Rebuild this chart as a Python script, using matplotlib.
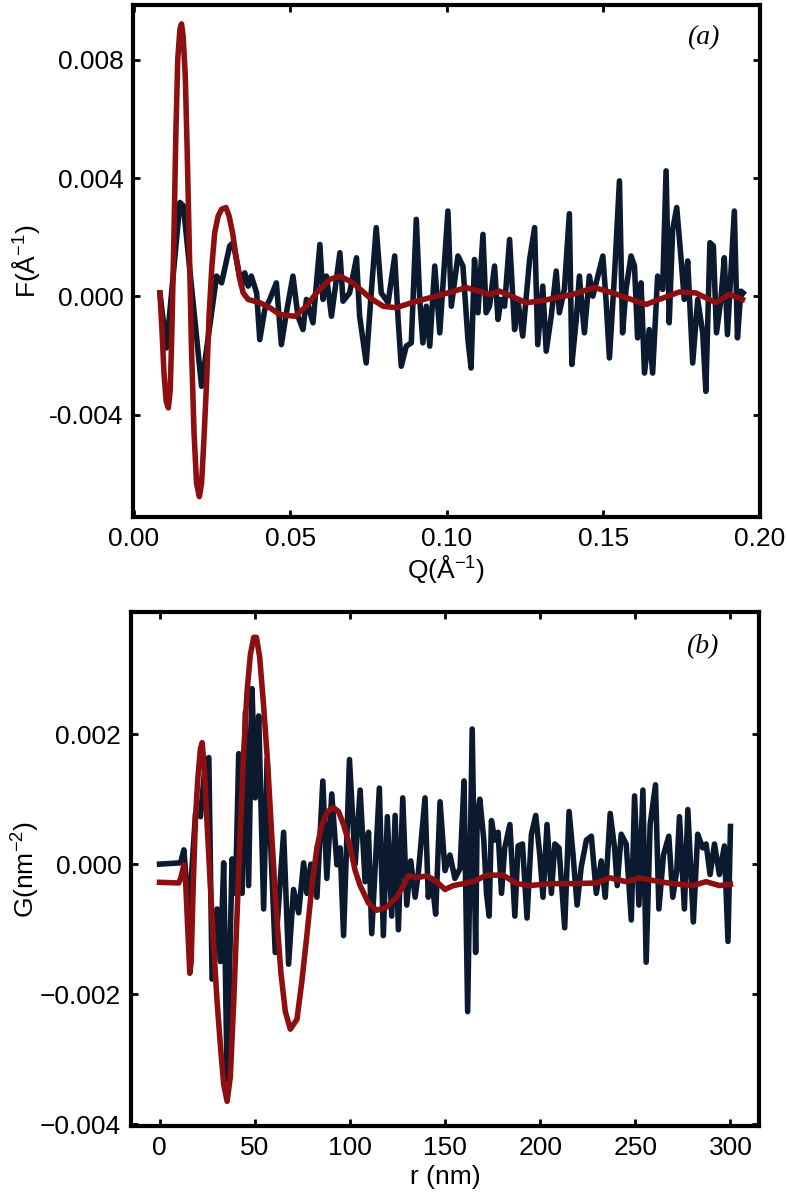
import matplotlib
matplotlib.use("Agg")
import matplotlib.pyplot as plt

plt.rcParams["font.family"] = ["Liberation Sans", "DejaVu Sans"]
plt.rcParams["mathtext.fontset"] = "custom"
plt.rcParams["mathtext.rm"] = "Liberation Sans"
plt.rcParams["mathtext.it"] = "Liberation Sans:italic"
plt.rcParams["mathtext.default"] = "regular"

# (a) F(Q): measured (noisy) and fitted (smooth)
q_data = [0.0083, 0.0104, 0.0147, 0.0158, 0.0216, 0.0264, 0.0280, 0.0306, 0.0317, 0.0344,
          0.0354, 0.0365, 0.0375, 0.0392, 0.0402, 0.0418, 0.0434, 0.0455, 0.0471, 0.0487,
          0.0508, 0.0524, 0.0540, 0.0551, 0.0572, 0.0594, 0.0604, 0.0615, 0.0631, 0.0658,
          0.0668, 0.0689, 0.0711, 0.0721, 0.0742, 0.0758, 0.0774, 0.0790, 0.0812, 0.0833,
          0.0844, 0.0854, 0.0870, 0.0886, 0.0902, 0.0913, 0.0923, 0.0934, 0.0945, 0.0961,
          0.0977, 0.1003, 0.1014, 0.1035, 0.1051, 0.1067, 0.1077, 0.1088, 0.1099, 0.1115,
          0.1125, 0.1136, 0.1152, 0.1163, 0.1173, 0.1184, 0.1200, 0.1216, 0.1226, 0.1242,
          0.1264, 0.1280, 0.1290, 0.1306, 0.1317, 0.1333, 0.1349, 0.1359, 0.1375, 0.1391,
          0.1399, 0.1413, 0.1423, 0.1439, 0.1455, 0.1466, 0.1482, 0.1498, 0.1508, 0.1519,
          0.1535, 0.1551, 0.1561, 0.1572, 0.1588, 0.1599, 0.1609, 0.1620, 0.1631, 0.1646,
          0.1657, 0.1673, 0.1689, 0.1700, 0.1710, 0.1721, 0.1734, 0.1748, 0.1758, 0.1769,
          0.1785, 0.1801, 0.1817, 0.1827, 0.1840, 0.1851, 0.1861, 0.1875, 0.1886, 0.1896,
          0.1918, 0.1928, 0.1939, 0.1946]
f_data = [0.00012, -0.00174, 0.00318, 0.00306, -0.00304, 0.00069, 0.00046, 0.00171, 0.00182, 0.00035,
          0.00080, 0.00035, 0.00069, 0.00012, -0.00146, -0.00044, -0.00010, 0.00046, -0.00163, -0.00055,
          0.00069, -0.00067, -0.00112, -0.00010, -0.00089, 0.00176, -0.00010, 0.00069, -0.00067, 0.00148,
          -0.00016, 0.00012, 0.00131, -0.00067, -0.00225, 0.00012, 0.00233, 0.00012, -0.00021, 0.00137,
          -0.00078, -0.00236, -0.00168, -0.00157, 0.00261, -0.00010, -0.00157, -0.00033, -0.00168, 0.00103,
          -0.00123, 0.00289, -0.00033, 0.00137, 0.00103, -0.00146, -0.00242, 0.00125, -0.00055, 0.00210,
          -0.00055, -0.00033, 0.00103, -0.00078, -0.00010, -0.00033, 0.00193, -0.00112, -0.00010, -0.00134,
          0.00125, 0.00233, -0.00163, 0.00035, -0.00185, -0.00067, 0.00086, -0.00055, 0.00024, 0.00280,
          -0.00230, -0.00078, 0.00069, -0.00123, 0.00069, 0.00001, 0.00069, 0.00137, -0.00010, -0.00208,
          0.00069, 0.00391, -0.00123, 0.00024, 0.00137, 0.00103, -0.00140, 0.00046, -0.00259, -0.00112,
          -0.00259, 0.00069, 0.00024, 0.00425, -0.00089, 0.00227, 0.00301, 0.00125, -0.00010, 0.00120,
          -0.00225, -0.00010, -0.00123, -0.00321, 0.00182, 0.00171, -0.00123, -0.00010, 0.00131, -0.00129,
          0.00289, -0.00140, 0.00018, 0.00012]

q_fit = [0.0083, 0.0089, 0.0096, 0.0103, 0.0110, 0.0116, 0.0121, 0.0128, 0.0134, 0.0140,
         0.0147, 0.0152, 0.0157, 0.0164, 0.0170, 0.0177, 0.0184, 0.0192, 0.0200, 0.0209,
         0.0216, 0.0223, 0.0232, 0.0240, 0.0249, 0.0258, 0.0269, 0.0280, 0.0294, 0.0304,
         0.0315, 0.0326, 0.0336, 0.0349, 0.0365, 0.0402, 0.0434, 0.0466, 0.0514, 0.0551,
         0.0583, 0.0626, 0.0658, 0.0700, 0.0753, 0.0796, 0.0838, 0.0902, 0.0966, 0.1062,
         0.1136, 0.1168, 0.1253, 0.1295, 0.1402, 0.1471, 0.1530, 0.1572, 0.1636, 0.1678,
         0.1742, 0.1795, 0.1859, 0.1902, 0.1944]
f_fit = [0.00012, -0.00100, -0.00259, -0.00355, -0.00377, -0.00315, -0.00123, 0.00216, 0.00555, 0.00803,
         0.00905, 0.00922, 0.00882, 0.00747, 0.00498, 0.00159, -0.00180, -0.00462, -0.00632, -0.00677,
         -0.00632, -0.00496, -0.00293, -0.00067, 0.00103, 0.00216, 0.00272, 0.00295, 0.00301, 0.00272,
         0.00216, 0.00137, 0.00069, 0.00012, -0.00010, -0.00021, -0.00038, -0.00061, -0.00067, -0.00033,
         0.00012, 0.00058, 0.00069, 0.00046, -0.00004, -0.00033, -0.00038, -0.00016, 0.00001, 0.00030,
         0.00007, 0.00018, -0.00021, -0.00016, 0.00007, 0.00030, 0.00012, -0.00004, -0.00027, -0.00010,
         0.00015, 0.00012, -0.00021, 0.00007, -0.00010]

# (b) G(r): measured (noisy) and fitted (smooth)
r_data = [0.0, 11.0, 12.8, 15.4, 18.9, 21.5, 24.1, 25.9, 27.6, 30.2,
          32.0, 33.7, 35.5, 38.1, 39.9, 41.6, 43.4, 45.1, 46.8, 48.6,
          50.3, 52.1, 54.7, 56.5, 60.8, 65.2, 67.8, 70.4, 73.1, 75.7,
          77.4, 79.5, 82.7, 85.8, 87.9, 90.5, 93.2, 94.9, 96.7, 99.8,
          102.8, 105.4, 108.0, 109.8, 111.5, 115.5, 117.6, 119.7, 122.0, 123.8,
          125.5, 127.8, 129.9, 132.0, 134.3, 136.0, 139.5, 141.2, 143.0, 145.1,
          147.4, 150.0, 152.6, 155.2, 157.9, 160.0, 161.9, 164.3, 166.1, 166.9,
          168.3, 170.4, 171.8, 173.2, 174.4, 176.2, 177.9, 179.7, 181.4, 184.1,
          186.7, 188.4, 190.7, 193.1, 195.4, 197.7, 199.8, 201.5, 203.6, 205.9,
          207.7, 209.9, 212.9, 215.2, 217.3, 219.4, 221.6, 224.3, 226.9, 229.5,
          232.1, 234.2, 236.8, 239.1, 240.5, 242.6, 245.2, 247.9, 249.6, 251.9,
          254.0, 255.7, 257.8, 260.6, 262.4, 264.8, 267.6, 269.7, 271.8, 273.2,
          275.8, 277.6, 280.5, 282.8, 285.4, 287.2, 289.3, 291.6, 294.2, 296.8,
          298.7, 300.0]
g_data = [0.0, 0.00002, 0.00022, -0.00080, 0.00078, 0.00073, 0.00158, 0.00164, -0.00177, -0.00069,
          -0.00150, 0.00002, -0.00333, 0.00008, -0.00045, 0.00170, -0.00045, 0.00234, -0.00033, 0.00270,
          0.00102, 0.00228, -0.00069, 0.00161, -0.00136, 0.00049, -0.00154, -0.00039, -0.00075, 0.00002,
          -0.00045, 0.0, -0.00051, 0.00128, -0.00022, 0.00108, -0.00001, 0.00025, -0.00110, 0.00161,
          0.0, 0.00114, -0.00027, 0.00049, -0.00107, 0.00117, -0.00110, 0.00073, -0.00080, 0.00075,
          -0.00101, 0.00102, -0.00063, 0.00005, -0.00051, -0.00013, 0.00102, -0.00051, -0.00022, -0.00077,
          0.00096, -0.00010, 0.00014, -0.00022, -0.00007, 0.00128, -0.00227, 0.00208, -0.00136, 0.00073,
          0.00100, 0.00037, -0.00045, -0.00080, 0.00067, 0.00037, 0.00049, -0.00045, 0.00025, 0.00061,
          -0.00080, 0.00028, 0.00031, -0.00083, 0.00046, 0.00075, 0.00014, -0.00051, 0.00061, -0.00045,
          0.00031, 0.00025, -0.00098, 0.00081, 0.00014, -0.00063, -0.00004, 0.00037, 0.00043, -0.00045,
          0.00005, -0.00051, 0.00078, 0.00025, -0.00033, 0.00046, 0.00031, -0.00086, 0.00105, -0.00063,
          0.00114, -0.00151, 0.00061, 0.00122, -0.00069, 0.00014, 0.00043, -0.00051, -0.00010, 0.00073,
          -0.00069, 0.00084, -0.00089, 0.00046, 0.00025, 0.00031, -0.00016, 0.00031, -0.00016, 0.00028,
          -0.00119, 0.00058]

r_fit = [0.0, 10.1, 11.4, 12.8, 13.8, 14.9, 15.9, 16.6, 17.7, 18.9,
         20.1, 21.5, 22.4, 23.6, 25.0, 26.7, 28.5, 30.2, 32.0, 33.7,
         35.5, 37.2, 39.0, 40.7, 42.5, 44.2, 46.0, 47.7, 49.5, 50.9,
         52.6, 54.7, 56.8, 59.1, 61.4, 63.8, 66.1, 68.7, 72.2, 74.8,
         77.4, 80.1, 82.7, 85.3, 88.3, 91.4, 94.0, 96.7, 100.2, 102.8,
         105.4, 109.8, 114.1, 119.4, 124.6, 128.1, 130.7, 135.1, 140.4, 145.6,
         150.0, 154.4, 159.6, 164.8, 171.8, 180.6, 187.6, 194.5, 205.0, 217.3,
         229.5, 236.5, 245.2, 252.2, 262.7, 269.7, 280.2, 287.2, 294.2, 300.0]
g_fit = [-0.00028, -0.00029, -0.00019, -0.00001, -0.00033, -0.00104, -0.00168, -0.00151, -0.00033, 0.00072,
         0.00131, 0.00178, 0.00187, 0.00143, 0.00061, -0.00033, -0.00127, -0.00210, -0.00280, -0.00339,
         -0.00365, -0.00327, -0.00210, -0.00080, 0.00055, 0.00172, 0.00266, 0.00322, 0.00349, 0.00349,
         0.00319, 0.00243, 0.00155, 0.00037, -0.00074, -0.00168, -0.00227, -0.00254, -0.00239, -0.00180,
         -0.00110, -0.00033, 0.00025, 0.00061, 0.00081, 0.00087, 0.00081, 0.00061, 0.00025, -0.00010,
         -0.00033, -0.00060, -0.00071, -0.00066, -0.00051, -0.00033, -0.00018, -0.00021, -0.00018, -0.00027,
         -0.00039, -0.00033, -0.00030, -0.00027, -0.00017, -0.00017, -0.00030, -0.00033, -0.00030, -0.00030,
         -0.00029, -0.00021, -0.00027, -0.00021, -0.00027, -0.00030, -0.00033, -0.00027, -0.00033, -0.00031]

q_ticks = [0.00, 0.05, 0.10, 0.15, 0.20]
q_labels = ["0.00", "0.05", "0.10", "0.15", "0.20"]
f_ticks = [-0.004, 0.000, 0.004, 0.008]
f_labels = ["-0.004", "0.000", "0.004", "0.008"]
r_ticks = [0, 50, 100, 150, 200, 250, 300]
r_labels = ["0", "50", "100", "150", "200", "250", "300"]
g_ticks = [-0.004, -0.002, 0.000, 0.002]
g_labels = ["\u22120.004", "\u22120.002", "0.000", "0.002"]

navy = "#0b1a2e"
red = "#8e0f0f"

W, H = 787, 1192
fig = plt.figure(figsize=(W / 100, H / 100), dpi=100)
ax1 = fig.add_axes([133 / W, 1 - 517 / H, 627 / W, 512 / H])
ax2 = fig.add_axes([131 / W, 1 - 1126 / H, 628 / W, 514 / H])


def style(ax):
    for s in ax.spines.values():
        s.set_linewidth(3)
    ax.tick_params(direction="in", length=5, width=2, labelsize=19, pad=7,
                   top=True, right=True)


ax1.plot(q_data, f_data, color=navy, lw=4, solid_joinstyle="round")
ax1.plot(q_fit, f_fit, color=red, lw=4, solid_joinstyle="round")
ax1.set_xlim(-0.0003, 0.2)
ax1.set_ylim(-0.00746, 0.00986)
ax1.set_xticks(q_ticks)
ax1.set_xticklabels(q_labels)
ax1.set_yticks(f_ticks)
ax1.set_yticklabels(f_labels)
style(ax1)
ax1.set_xlabel("Q(Å$^{-1}$)", fontsize=19)
ax1.set_ylabel("F(Å$^{-1}$)", fontsize=19)
ax1.xaxis.set_label_coords(0.5, -0.07)
ax1.yaxis.set_label_coords(-0.145, 0.5)
ax1.text(0.91, 0.937, "(a)", transform=ax1.transAxes, fontsize=20,
         family="Liberation Serif", style="italic", ha="center", va="center")

ax2.plot(r_data, g_data, color=navy, lw=4, solid_joinstyle="round")
ax2.plot(r_fit, g_fit, color=red, lw=4, solid_joinstyle="round")
ax2.set_xlim(-15, 315)
ax2.set_ylim(-0.00403, 0.00388)
ax2.set_xticks(r_ticks)
ax2.set_xticklabels(r_labels)
ax2.set_yticks(g_ticks)
ax2.set_yticklabels(g_labels)
style(ax2)
ax2.set_xlabel("r (nm)", fontsize=19)
ax2.set_ylabel("G(nm$^{-2}$)", fontsize=19)
ax2.xaxis.set_label_coords(0.5, -0.075)
ax2.yaxis.set_label_coords(-0.142, 0.5)
ax2.text(0.91, 0.932, "(b)", transform=ax2.transAxes, fontsize=20,
         family="Liberation Serif", style="italic", ha="center", va="center")

plt.savefig("out.png", dpi=100)
